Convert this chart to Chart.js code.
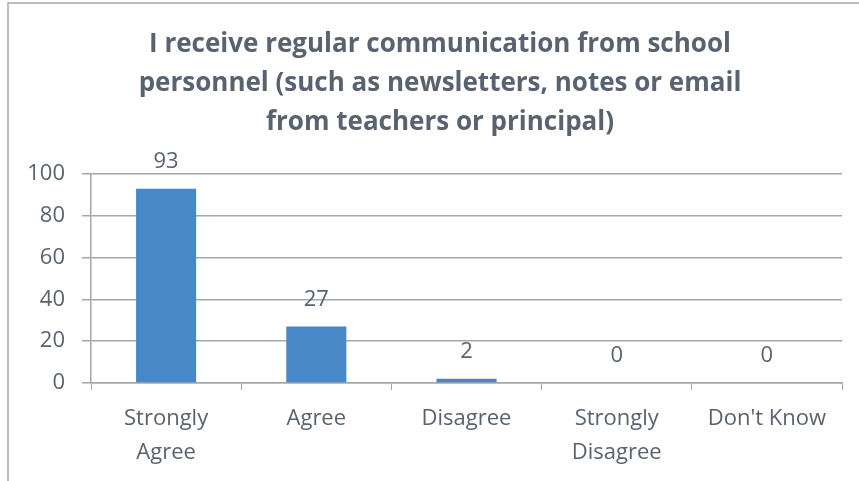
<!DOCTYPE html>
<html>
<head>
<meta charset="utf-8">
<script src="https://cdn.jsdelivr.net/npm/chart.js@4/dist/chart.umd.min.js"></script>
<style>
  html, body { margin: 0; padding: 0; background: #ffffff; }
  #wrap { width: 859px; height: 481px; position: relative; }
</style>
</head>
<body>
<div id="wrap"><canvas id="c" width="859" height="481"></canvas></div>
<script>
const titleLines = [
  "I receive regular communication from school",
  "personnel (such as newsletters, notes or email",
  "from teachers or principal)"
];
const categories = [["Strongly", "Agree"], "Agree", "Disagree", ["Strongly", "Disagree"], "Don't Know"];
const counts = [93, 27, 2, 0, 0];
const yTicks = [0, 20, 40, 60, 80, 100];

const textColor = '#59636F';
const lineColor = '#A6A6A6';
const fontFamily = "'Open Sans', 'Noto Sans', sans-serif";

const frame = {
  id: 'frame',
  beforeDraw(chart) {
    const ctx = chart.ctx;
    ctx.save();
    ctx.fillStyle = '#ffffff';
    ctx.fillRect(0, 0, chart.width, chart.height);
    ctx.strokeStyle = lineColor;
    ctx.lineWidth = 1.5;
    ctx.beginPath();
    ctx.moveTo(8, chart.height + 5);
    ctx.lineTo(8, 3);
    ctx.lineTo(chart.width + 5, 3);
    ctx.stroke();
    ctx.restore();
  }
};

const titleText = {
  id: 'titleText',
  afterDraw(chart) {
    const ctx = chart.ctx;
    ctx.save();
    ctx.fillStyle = textColor;
    ctx.font = "bold 26px " + fontFamily;
    ctx.textAlign = 'center';
    ctx.textBaseline = 'alphabetic';
    titleLines.forEach((line, i) => {
      ctx.fillText(line, 440, 52 + i * 39);
    });
    ctx.restore();
  }
};

const valueLabels = {
  id: 'valueLabels',
  afterDatasetsDraw(chart) {
    const ctx = chart.ctx;
    const meta = chart.getDatasetMeta(0);
    ctx.save();
    ctx.fillStyle = textColor;
    ctx.font = "22px " + fontFamily;
    ctx.textAlign = 'center';
    ctx.textBaseline = 'alphabetic';
    meta.data.forEach((bar, i) => {
      ctx.fillText(String(counts[i]), bar.x, bar.y - 21);
    });
    ctx.restore();
  }
};

new Chart(document.getElementById('c'), {
  type: 'bar',
  data: {
    labels: categories,
    datasets: [{
      data: counts,
      backgroundColor: '#4888C7',
      borderWidth: 0,
      barPercentage: 0.4,
      categoryPercentage: 1.0
    }]
  },
  options: {
    responsive: false,
    animation: false,
    devicePixelRatio: 1,
    layout: { padding: { left: 0, right: 17, top: 174, bottom: 0 } },
    plugins: {
      legend: { display: false },
      tooltip: { enabled: false },
      title: { display: false }
    },
    scales: {
      x: {
        grid: {
          display: true,
          drawOnChartArea: false,
          drawTicks: true,
          tickLength: 7,
          color: lineColor,
          offset: true
        },
        border: { display: true, color: lineColor, width: 1.5 },
        ticks: {
          color: textColor,
          font: { family: fontFamily, size: 22, lineHeight: 1.545 },
          padding: 12,
          maxRotation: 0,
          autoSkip: false
        },
        afterFit(scale) { scale.height = 98; }
      },
      y: {
        min: 0,
        max: 100,
        afterBuildTicks(scale) { scale.ticks = yTicks.map(v => ({ value: v })); },
        grid: {
          display: true,
          drawOnChartArea: true,
          drawTicks: true,
          tickLength: 9,
          color: lineColor,
          lineWidth: 1.5
        },
        border: { display: true, color: lineColor, width: 1.5 },
        ticks: {
          color: textColor,
          font: { family: fontFamily, size: 22 },
          padding: 17
        },
        afterFit(scale) { scale.width = 91; }
      }
    }
  },
  plugins: [frame, titleText, valueLabels]
});
</script>
</body>
</html>
